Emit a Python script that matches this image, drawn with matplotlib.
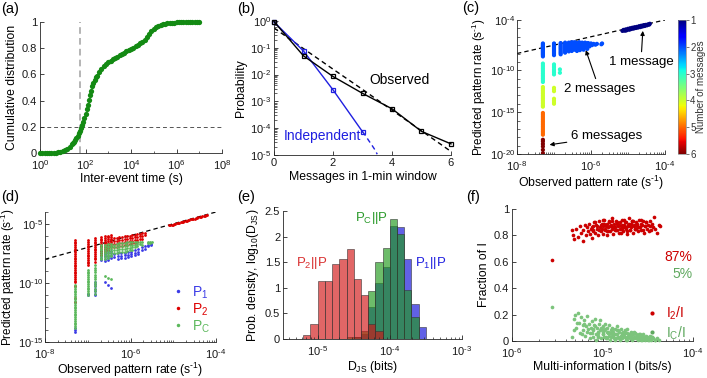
import numpy as np
import matplotlib
matplotlib.use('Agg')
import matplotlib.pyplot as plt
from matplotlib.ticker import LogLocator, NullFormatter, FixedLocator, FuncFormatter
from matplotlib.lines import Line2D

plt.rcParams['font.family'] = ['Liberation Sans', 'DejaVu Sans']
plt.rcParams['mathtext.fontset'] = 'custom'
plt.rcParams['mathtext.rm'] = 'Liberation Sans'
plt.rcParams['mathtext.it'] = 'Liberation Sans:italic'
plt.rcParams['mathtext.bf'] = 'Liberation Sans:bold'
plt.rcParams['mathtext.default'] = 'regular'

# ---------------- data ----------------
# (a) cumulative distribution of inter-event times (log10 seconds)
a_logt = [0.0, 0.1, 0.2, 0.3, 0.4, 0.5, 0.6, 0.7, 0.8, 0.9, 1.0, 1.1, 1.2, 1.3, 1.4, 1.45, 1.5, 1.55, 1.6,
          1.65, 1.7, 1.75, 1.8, 1.85, 1.9, 1.95, 2.0, 2.05, 2.1, 2.15, 2.2, 2.25, 2.3, 2.35, 2.4, 2.45, 2.5,
          2.6, 2.7, 2.8, 2.9, 3.0, 3.1, 3.2, 3.3, 3.4, 3.5, 3.6, 3.7, 3.8, 3.9,
          4.0, 4.1, 4.2, 4.3, 4.4, 4.5, 4.6, 4.7, 4.8, 4.9, 5.0, 5.1, 5.2, 5.3, 5.4, 5.5, 5.6, 5.7, 5.8, 5.9,
          6.0, 6.1, 6.2, 6.3, 6.4, 6.5, 6.6, 6.7, 6.8, 6.9, 7.0]
a_cdf = [0.0, 0.0, 0.0, 0.0, 0.0, 0.0, 0.001, 0.002, 0.004, 0.008, 0.013, 0.02, 0.03, 0.045, 0.065, 0.075,
         0.085, 0.10, 0.115, 0.132, 0.15, 0.17, 0.19, 0.215, 0.24, 0.27, 0.30, 0.335, 0.37, 0.405, 0.44,
         0.475, 0.51, 0.535, 0.56, 0.578, 0.59,
         0.62, 0.645, 0.665, 0.68, 0.695, 0.705, 0.715, 0.725, 0.735, 0.745, 0.755, 0.765, 0.775, 0.785,
         0.795, 0.805, 0.815, 0.825, 0.837, 0.85, 0.865, 0.885, 0.905, 0.93, 0.95, 0.962, 0.97, 0.977,
         0.982, 0.986, 0.989, 0.992, 0.994, 0.996,
         0.997, 0.998, 0.998, 0.999, 0.999, 1.0, 1.0, 1.0, 1.0, 1.0, 1.0]
a_window = 60
a_level = 0.2

# (b) messages per 1-min window
b_k = [0, 1, 2, 3, 4, 5, 6]
b_obs = [0.95, 0.05, 0.0085, 0.002, 5.3e-4, 7.6e-5, 2.6e-5]
b_fit = [0.55, 0.093, 0.016, 0.0028, 4.7e-4, 8.0e-5, 1.35e-5]
b_ind_k = [0, 1, 2, 3]
b_ind = [0.92, 0.076, 0.0027, 7.4e-5]
b_tail_k = [3.0, 3.1, 3.2, 3.3, 3.4, 3.5]
b_tail = [7.4e-5, 5.3e-5, 3.6e-5, 2.5e-5, 1.7e-5, 1.07e-5]

# (c) observed vs predicted pattern rate (log10), grouped by number of messages
c1_x = [-5.15, -5.12, -5.09, -5.06, -5.03, -5.00, -4.97, -4.94, -4.91, -4.88, -4.85, -4.82, -4.79, -4.76,
        -4.73, -4.70, -4.67, -4.64, -4.61, -4.58, -4.55, -4.52, -4.49, -4.46, -4.43, -4.41,
        -5.05, -4.95, -4.85, -4.75, -4.65, -4.55]
c1_y = [-5.30, -5.18, -5.28, -5.12, -5.20, -5.05, -5.15, -4.98, -5.08, -4.92, -5.02, -4.86, -4.96, -4.82,
        -4.90, -4.74, -4.85, -4.68, -4.78, -4.62, -4.72, -4.58, -4.64, -4.52, -4.56, -4.45,
        -5.25, -5.12, -4.98, -4.86, -4.76, -4.62]
c2_x = [-7.3] * 16 + [-7.0] * 15 + [-6.82] * 10 + [-6.7] * 9 + [-6.6] * 8 + [-6.52] * 8 + [-6.45] * 7 + \
       [-6.40, -6.40, -6.40, -6.36, -6.36, -6.36, -6.32, -6.32, -6.32, -6.28, -6.28, -6.28, -6.24, -6.24,
        -6.24, -6.20, -6.20, -6.20, -6.16, -6.16, -6.16, -6.12, -6.12, -6.12, -6.08, -6.08, -6.04, -6.04,
        -6.00, -5.97, -5.93, -5.88, -5.84, -5.72, -5.70, -6.38, -6.30, -6.20, -6.10]
c2_y = [-6.8, -6.9, -7.0, -7.1, -7.2, -7.3, -7.4, -7.5, -7.6, -7.7, -7.8, -7.9, -8.0, -8.1, -8.2, -8.35,
        -6.8, -6.9, -7.0, -7.1, -7.2, -7.3, -7.4, -7.5, -7.6, -7.7, -7.8, -7.9, -8.0, -8.1, -8.2,
        -6.75, -6.9, -7.05, -7.2, -7.35, -7.5, -7.65, -7.8, -7.95, -8.1,
        -6.7, -6.85, -7.0, -7.15, -7.3, -7.45, -7.6, -7.75, -7.9,
        -6.7, -6.85, -7.0, -7.15, -7.3, -7.45, -7.6, -7.75,
        -6.65, -6.8, -6.95, -7.1, -7.25, -7.4, -7.55, -7.7,
        -6.65, -6.8, -6.95, -7.1, -7.25, -7.4, -7.55,
        -6.7, -7.0, -7.3, -6.8, -7.15, -7.45, -6.65, -6.95, -7.25, -6.75, -7.05, -7.35, -6.7, -7.0,
        -7.25, -6.8, -7.1, -7.4, -6.7, -6.95, -7.2, -6.8, -7.05, -7.3, -6.75, -7.0, -6.85, -7.15,
        -6.8, -7.0, -6.85, -6.95, -6.85, -6.9, -6.8, -7.7, -7.6, -7.55, -7.45]
c3_x = [-7.3] * 12 + [-7.0] * 7 + [-6.84] * 2
c3_y = [-9.2, -9.4, -9.6, -9.8, -10.0, -10.2, -10.4, -10.6, -10.8, -11.0, -11.2, -11.4,
        -9.3, -9.5, -9.7, -9.9, -10.1, -10.3, -10.5, -9.9, -10.3]
c4_x = [-7.3] * 13 + [-7.0] * 7
c4_y = [-12.0, -12.2, -12.4, -12.6, -12.8, -13.0, -13.2, -13.4, -13.6, -13.8, -14.0, -14.2, -14.35,
        -12.1, -12.3, -12.5, -13.4, -13.6, -13.8, -14.0]
c5_x = [-7.3] * 14
c5_y = [-15.1, -15.3, -15.5, -15.7, -15.9, -16.1, -16.3, -16.5, -16.7, -16.9, -17.1, -17.3, -17.5, -17.7]
c6_x = [-7.3] * 6
c6_y = [-18.3, -18.5, -18.8, -19.1, -19.5, -19.9]
c_diag = [1e-8, 1e-4]

# (d) predicted rates by model (log10) -- stripes at discrete observed rates, plus cluster
d_stripe_x = [-7.30, -7.00, -6.82, -6.70, -6.60, -6.52, -6.45]
d_p2_stripes = [
    [-6.35, -6.5, -6.65, -6.8, -6.95, -7.1, -7.25, -7.4, -7.55, -7.7, -7.85, -8.0, -8.15, -8.3, -8.45, -8.6,
     -8.75, -8.9, -9.05, -9.2, -9.35, -9.5, -9.65, -9.8, -9.95, -10.3, -11.3, -11.6],
    [-6.4, -6.55, -6.7, -6.85, -7.0, -7.15, -7.3, -7.45, -7.6, -7.75, -7.9, -8.05, -8.2, -8.35, -8.5],
    [-6.2, -6.35, -6.5, -6.65, -6.8, -6.95, -7.1, -7.25, -7.4, -7.55, -7.7, -7.85, -8.0, -8.2],
    [-6.1, -6.25, -6.4, -6.55, -6.7, -6.85, -7.0, -7.15, -7.3, -7.45, -7.6],
    [-6.05, -6.2, -6.35, -6.5, -6.65, -6.8, -6.95, -7.1, -7.25, -7.4],
    [-6.0, -6.15, -6.3, -6.45, -6.6, -6.75, -6.9, -7.05, -7.2],
    [-5.95, -6.1, -6.25, -6.4, -6.55, -6.7, -6.85, -7.0]]
d_pc_stripes = [
    [-10.2, -10.35, -10.5, -10.65, -10.8, -10.95, -11.1, -11.25, -11.4, -11.55, -11.7, -11.85, -12.0,
     -12.15, -12.3, -12.45, -12.6, -12.75, -12.9, -13.05, -13.2, -13.35, -13.5, -13.65, -13.8],
    [-8.9, -9.05, -9.2, -9.35, -9.5, -9.65, -9.8, -9.95, -10.1, -10.25, -10.4, -10.55, -10.7, -10.85, -11.0],
    [-8.5, -8.7, -8.9, -9.1, -9.3, -9.5, -9.7, -9.9, -10.1, -10.3, -10.5, -10.7, -10.9],
    [-6.8, -6.95, -7.1, -7.25, -7.4, -7.55, -7.7, -7.85, -8.0],
    [-6.75, -6.9, -7.05, -7.2, -7.35, -7.5, -7.65, -7.8, -7.95, -9.4],
    [-6.7, -6.85, -7.0, -7.15, -7.3, -7.45, -7.6, -7.75, -7.9, -9.55],
    [-6.7, -6.85, -7.0, -7.15, -7.3, -7.45, -7.6, -7.75, -9.7]]
d_p1_stripes = [
    [-13.85, -14.0, -14.15],
    [-10.9, -11.05],
    [-9.9, -10.1, -10.3, -10.5, -10.7, -10.9, -11.05],
    [-7.3, -7.5, -7.7, -7.9, -8.1],
    [-7.35, -7.55, -7.75, -7.95, -8.15, -9.9],
    [-7.3, -7.5, -7.7, -7.9, -8.1, -10.15],
    [-7.3, -7.5, -7.7, -7.9, -10.4]]
d_p2_cx = [-6.38, -6.38, -6.38, -6.38, -6.32, -6.32, -6.32, -6.32, -6.26, -6.26, -6.26, -6.26,
           -6.20, -6.20, -6.20, -6.20, -6.14, -6.14, -6.14, -6.14, -6.08, -6.08, -6.08, -6.08,
           -6.02, -6.02, -6.02, -6.02, -5.96, -5.96, -5.96, -5.96, -5.90, -5.90, -5.90, -5.90,
           -5.84, -5.84, -5.84, -5.84, -5.78, -5.78, -5.78, -5.72, -5.72, -5.72, -5.66, -5.66]
d_p2_cy = [-6.20, -6.45, -6.70, -6.95, -6.17, -6.42, -6.67, -6.92, -6.14, -6.38, -6.62, -6.88,
           -6.10, -6.35, -6.60, -6.85, -6.07, -6.30, -6.55, -6.80, -6.03, -6.27, -6.50, -6.75,
           -6.00, -6.22, -6.45, -6.70, -5.96, -6.18, -6.42, -6.65, -5.93, -6.15, -6.38, -6.60,
           -5.89, -6.10, -6.33, -6.55, -5.86, -6.05, -6.30, -5.80, -6.00, -6.25, -5.75, -5.95]
d_pc_cx = [-6.38, -6.38, -6.38, -6.38, -6.32, -6.32, -6.32, -6.32, -6.26, -6.26, -6.26, -6.26,
           -6.20, -6.20, -6.20, -6.20, -6.14, -6.14, -6.14, -6.14, -6.08, -6.08, -6.08, -6.08,
           -6.02, -6.02, -6.02, -6.02, -5.96, -5.96, -5.96, -5.96, -5.90, -5.90, -5.90,
           -5.84, -5.84, -5.84, -5.78, -5.78, -5.72, -5.72, -5.60, -5.60, -5.55, -5.55, -5.50]
d_pc_cy = [-6.75, -7.00, -7.25, -7.50, -6.70, -6.95, -7.20, -7.45, -6.65, -6.90, -7.15, -7.40,
           -6.60, -6.85, -7.10, -7.35, -6.60, -6.85, -7.10, -7.35, -6.55, -6.80, -7.05, -7.30,
           -6.55, -6.80, -7.05, -7.25, -6.50, -6.75, -7.00, -7.20, -6.50, -6.75, -6.95,
           -6.50, -6.70, -6.90, -6.50, -6.70, -6.55, -6.75, -6.50, -6.65, -6.50, -6.60, -6.55]
d_p1_cx = [-6.38, -6.38, -6.30, -6.30, -6.30, -6.22, -6.22, -6.22, -6.14, -6.14, -6.14, -6.06, -6.06,
           -6.06, -5.98, -5.98, -5.98, -5.90, -5.90, -5.90, -5.82, -5.82, -5.82, -5.74, -5.74, -5.66,
           -5.66, -5.58, -5.58, -5.52, -5.52]
d_p1_cy = [-7.55, -7.80, -7.50, -7.75, -7.95, -7.45, -7.70, -7.90, -7.45, -7.65, -7.85, -7.40, -7.60,
           -7.80, -7.35, -7.55, -7.75, -7.20, -7.45, -7.65, -7.10, -7.35, -7.55, -7.00, -7.25, -6.90,
           -7.10, -6.75, -6.90, -6.70, -6.80]
d_one_x = [-5.10, -5.07, -5.04, -5.01, -4.98, -4.95, -4.92, -4.89, -4.86, -4.83, -4.80, -4.77, -4.74, -4.71,
           -4.68, -4.65, -4.62, -4.59, -4.56, -4.53, -4.50, -4.47, -4.44, -4.41, -4.38, -4.35, -4.32, -4.29,
           -4.26, -4.23, -4.20]
d_one_y = [-5.14, -5.13, -5.08, -5.07, -5.02, -5.01, -4.96, -4.95, -4.90, -4.88, -4.85, -4.82, -4.79, -4.75,
           -4.73, -4.69, -4.67, -4.63, -4.61, -4.57, -4.55, -4.51, -4.49, -4.45, -4.43, -4.39, -4.37, -4.33,
           -4.31, -4.27, -4.25]
d_diag = [1e-8, 1e-4]

# (e) histograms of log10 D_JS (bin left edges, width 0.1 decade)
e_edges = [-5.2, -5.1, -5.0, -4.9, -4.8, -4.7, -4.6, -4.5, -4.4, -4.3, -4.2, -4.1, -4.0, -3.9, -3.8, -3.7,
           -3.6, -3.5]
e_p1 = [0, 0, 0, 0, 0, 0, 0, 0.03, 0.10, 0.62, 1.09, 1.40, 2.20, 2.19, 1.56, 0.68, 0.23]
e_pc = [0, 0, 0, 0, 0, 0, 0.03, 0.03, 0.16, 0.93, 1.50, 1.77, 2.34, 2.06, 0.96, 0.43, 0]
e_p2 = [0.08, 0.29, 1.13, 1.13, 1.46, 1.56, 1.76, 1.17, 0.86, 0.29, 0.16, 0, 0, 0, 0, 0, 0]

# (f) fraction of multi-information vs multi-information (log10 bits/s)
f_i2_x = [-5.56,
          -5.34, -5.33, -5.31, -5.29, -5.27, -5.25, -5.24, -5.22, -5.21, -5.19,
          -5.18, -5.17, -5.16, -5.15, -5.14, -5.13, -5.12, -5.11, -5.10, -5.09,
          -5.08, -5.07, -5.06, -5.05, -5.04, -5.03, -5.02, -5.01, -5.00, -4.99,
          -4.98, -4.97, -4.96, -4.95, -4.94, -4.93, -4.92, -4.91, -4.90, -4.89,
          -4.88, -4.87, -4.86, -4.85, -4.84, -4.83, -4.82, -4.81, -4.80, -4.79,
          -4.78, -4.77, -4.76, -4.75, -4.74, -4.73, -4.72, -4.71, -4.70, -4.69,
          -4.68, -4.67, -4.66, -4.65, -4.64, -4.63, -4.62, -4.61, -4.60, -4.59,
          -4.58, -4.57, -4.56, -4.55, -4.54, -4.53, -4.52, -4.51, -4.50, -4.49,
          -4.48, -4.47, -4.46, -4.45, -4.44, -4.43, -4.42, -4.40, -4.38, -4.37,
          -5.12, -5.10, -5.08, -5.06, -5.04, -5.02, -4.995, -4.975, -4.955, -4.935, -4.915,
          -4.895, -4.875, -4.855, -4.835, -4.815, -4.795, -4.775, -4.755, -4.735, -4.715,
          -4.695, -4.675, -4.655, -4.635, -4.615, -4.595, -4.575, -4.555, -4.535, -4.52,
          -5.005, -4.985, -4.965, -4.945, -4.925, -4.905, -4.885, -4.865, -4.845, -4.825, -4.805,
          -4.785, -4.765, -4.745, -4.725, -4.705, -4.685, -4.665, -4.645, -4.625, -4.605]
f_i2_y = [0.61,
          0.84, 0.80, 0.77, 0.85, 0.79, 0.87, 0.82, 0.76, 0.84, 0.88,
          0.80, 0.86, 0.83, 0.89, 0.81, 0.85, 0.78, 0.87, 0.84, 0.90,
          0.82, 0.88, 0.85, 0.80, 0.91, 0.86, 0.83, 0.89, 0.81, 0.87,
          0.92, 0.84, 0.88, 0.80, 0.86, 0.90, 0.83, 0.87, 0.93, 0.85,
          0.81, 0.89, 0.86, 0.91, 0.84, 0.88, 0.82, 0.90, 0.87, 0.85,
          0.92, 0.83, 0.88, 0.86, 0.90, 0.81, 0.87, 0.93, 0.84, 0.89,
          0.86, 0.91, 0.82, 0.88, 0.85, 0.90, 0.87, 0.83, 0.92, 0.86,
          0.89, 0.84, 0.88, 0.91, 0.82, 0.87, 0.90, 0.85, 0.88, 0.83,
          0.87, 0.91, 0.84, 0.89, 0.86, 0.94, 0.85, 0.82, 0.88, 0.87,
          0.86, 0.83, 0.90, 0.87, 0.84, 0.88, 0.92, 0.85, 0.89, 0.83, 0.87,
          0.91, 0.86, 0.84, 0.89, 0.88, 0.82, 0.86, 0.90, 0.85, 0.88,
          0.84, 0.91, 0.87, 0.85, 0.89, 0.86, 0.92, 0.84, 0.87, 0.90,
          0.85, 0.89, 0.87, 0.83, 0.91, 0.88, 0.86, 0.84, 0.90, 0.87, 0.85,
          0.88, 0.92, 0.86, 0.83, 0.89, 0.87, 0.91, 0.85, 0.88, 0.86]
f_ic_x = [-5.56,
          -5.34, -5.32, -5.30, -5.29, -5.27, -5.26, -5.25, -5.24, -5.22, -5.21, -5.20, -5.19, -5.18, -5.17,
          -5.16, -5.15, -5.14, -5.13, -5.12, -5.11, -5.10, -5.09, -5.08, -5.07, -5.06, -5.05, -5.04, -5.03,
          -5.02, -5.01, -5.00, -4.99, -4.98, -4.97, -4.96, -4.95, -4.94, -4.93, -4.92, -4.91, -4.90, -4.89,
          -4.88, -4.87, -4.86, -4.85, -4.84, -4.83, -4.82, -4.81, -4.80, -4.79, -4.78, -4.77, -4.76, -4.75,
          -4.74, -4.73, -4.72, -4.71, -4.70, -4.69, -4.68, -4.67, -4.66, -4.65, -4.64, -4.63, -4.62, -4.61,
          -4.60, -4.59, -4.58, -4.57, -4.56, -4.55, -4.53, -4.52, -4.50, -4.49, -4.47, -4.46, -4.44, -4.42,
          -4.40, -4.38,
          -5.05, -5.00, -4.97, -4.95, -4.92, -4.90, -4.88, -4.85, -4.83, -4.80, -4.78, -4.75, -4.73, -4.70,
          -4.68, -4.65, -4.62, -4.60, -4.57, -4.55, -4.52, -4.48, -4.45,
          -5.115, -5.085, -5.055, -5.025, -4.995, -4.965, -4.935, -4.905, -4.875, -4.845, -4.815, -4.785,
          -4.755, -4.725, -4.695, -4.665, -4.635, -4.605, -4.575, -4.545, -4.515, -4.485, -4.455, -4.425,
          -5.105, -5.075, -5.045, -5.015, -4.985, -4.955, -4.925, -4.895, -4.865, -4.835, -4.805, -4.775,
          -4.745, -4.715, -4.685, -4.655, -4.625, -4.595, -4.565, -4.535, -4.505, -4.475,
          -5.23, -5.20, -5.17, -5.14, -5.28, -5.31]
f_ic_y = [0.26,
          0.03, 0.17, 0.20, 0.10, 0.21, 0.14, 0.06, 0.18, 0.12, 0.08, 0.16, 0.04, 0.11, 0.19,
          0.09, 0.13, 0.06, 0.10, 0.15, 0.03, 0.08, 0.12, 0.17, 0.05, 0.10, 0.07, 0.13, 0.16,
          0.02, 0.09, 0.11, 0.05, 0.08, 0.13, 0.03, 0.10, 0.06, 0.12, 0.01, 0.08, 0.04, 0.10,
          0.07, 0.02, 0.09, 0.05, 0.11, 0.03, 0.07, 0.01, 0.09, 0.05, 0.02, 0.07, 0.04, 0.08,
          0.01, 0.06, 0.03, 0.05, 0.02, 0.07, 0.04, 0.01, 0.05, 0.03, 0.06, 0.02, 0.04, 0.01,
          0.03, 0.05, 0.02, 0.04, 0.01, 0.03, 0.02, 0.04, 0.01, 0.03, 0.02, 0.01, 0.02, 0.01,
          0.02, 0.01,
          0.04, 0.07, 0.09, 0.02, 0.06, 0.09, 0.04, 0.02, 0.08, 0.04, 0.06, 0.03, 0.09, 0.05,
          0.02, 0.07, 0.03, 0.05, 0.02, 0.05, 0.02, 0.04, 0.03,
          0.06, 0.11, 0.03, 0.08, 0.05, 0.02, 0.07, 0.03, 0.05, 0.08, 0.02, 0.04,
          0.06, 0.01, 0.04, 0.06, 0.02, 0.04, 0.01, 0.03, 0.02, 0.01, 0.03, 0.01,
          0.09, 0.01, 0.06, 0.10, 0.03, 0.07, 0.04, 0.06, 0.01, 0.05, 0.03, 0.05,
          0.02, 0.04, 0.06, 0.02, 0.05, 0.02, 0.03, 0.01, 0.03, 0.02,
          0.05, 0.13, 0.07, 0.02, 0.14, 0.08]
f_i2_share = '87%'
f_ic_share = '5%'

# ---------------- figure ----------------
W, H = 707, 378
fig = plt.figure(figsize=(W / 100, H / 100), dpi=100)

def rect(l, t, r, b):
    return [l / W, 1 - b / H, (r - l) / W, (b - t) / H]

AXC = '#262626'
TFS = 8
LFS = 8.8
HY = '\u2010'   # short hyphen used in superscript exponents
INV_S = '(s$^{' + HY + '1}$)'

def style(ax):
    for s in ['top', 'right']:
        ax.spines[s].set_visible(False)
    for s in ['left', 'bottom']:
        ax.spines[s].set_color(AXC)
        ax.spines[s].set_linewidth(0.6)
    ax.tick_params(which='both', direction='in', colors=AXC, labelsize=TFS, labelcolor='#1a1a1a')
    ax.tick_params(which='major', length=3, width=0.6, pad=2)
    ax.tick_params(which='minor', length=1.8, width=0.5)

gfmt = FuncFormatter(lambda v, p: f'{v:g}')

def _logfmt(v, pos):
    k = int(round(np.log10(v)))
    e = (HY + str(-k)) if k < 0 else str(k)
    return '$10^{' + e + '}$'

lfmt = FuncFormatter(_logfmt)

def p(vals):
    return [10.0 ** v for v in vals]

# ---- (a)
ax = fig.add_axes(rect(40, 22, 222, 153))
style(ax)
ax.set_xscale('log')
ax.axvline(a_window, color='#a8a8a8', ls=(0, (4, 2.5)), lw=1.2, zorder=1)
ax.axhline(a_level, color='#555555', ls=(0, (4, 3)), lw=0.7, zorder=1)
ax.plot(p(a_logt), a_cdf, 'o', color='#138a13', ms=3.8, mec='none', clip_on=False, zorder=3)
ax.set_xlim(1, 1e8)
ax.set_ylim(0, 1)
ax.xaxis.set_major_locator(FixedLocator([1e0, 1e2, 1e4, 1e6, 1e8]))
ax.xaxis.set_major_formatter(lfmt)
ax.xaxis.set_minor_locator(FixedLocator([1e1, 1e3, 1e5, 1e7]))
ax.xaxis.set_minor_formatter(NullFormatter())
ax.set_yticks([0, 0.2, 0.4, 0.6, 0.8, 1.0])
ax.yaxis.set_major_formatter(gfmt)
ax.tick_params(axis='x', pad=4)
ax.set_xlabel('Inter-event time (s)', fontsize=LFS, labelpad=0.5)
ax.set_ylabel('Cumulative distribution', fontsize=LFS, labelpad=3)

# ---- (b)
ax = fig.add_axes(rect(274, 21, 451, 155))
style(ax)
ax.set_yscale('log')
ax.plot(b_k, b_fit, color='k', ls=(0, (3.5, 2.5)), lw=1.0, zorder=2)
ax.plot(b_tail_k, b_tail, color='#1f1fe0', ls=(0, (3.5, 2.5)), lw=1.0, zorder=2)
ax.plot(b_ind_k, b_ind, '-s', color='#1f1fe0', lw=1.0, ms=3.2, mfc='none', mew=0.9, zorder=3, clip_on=False)
ax.plot(b_k, b_obs, '-s', color='k', lw=1.0, ms=3.2, mfc='none', mew=0.9, zorder=4, clip_on=False)
ax.set_xlim(0, 6)
ax.set_ylim(1e-5, 1)
ax.set_xticks([0, 2, 4, 6])
ax.yaxis.set_major_locator(FixedLocator([1e-5, 1e-4, 1e-3, 1e-2, 1e-1, 1e0]))
ax.yaxis.set_major_formatter(lfmt)
ax.yaxis.set_minor_locator(LogLocator(base=10, subs=np.arange(2, 10), numticks=30))
ax.yaxis.set_minor_formatter(NullFormatter())
ax.text(3.25, 10 ** -2.2, 'Observed', fontsize=10, color='k', va='center', ha='left')
ax.text(0.32, 10 ** -4.3, 'Independent', fontsize=10, color='#1f1fe0', va='center', ha='left')
ax.set_xlabel('Messages in 1-min window', fontsize=LFS, labelpad=2)
ax.set_ylabel('Probability', fontsize=LFS, labelpad=2)

# ---- (c)
ax = fig.add_axes(rect(517, 20, 665, 154))
style(ax)
ax.set_xscale('log')
ax.set_yscale('log')
ax.plot(c_diag, c_diag, color='k', ls=(0, (3.5, 2.5)), lw=0.9, zorder=1)
groups = [(c6_x, c6_y, 6), (c5_x, c5_y, 5), (c4_x, c4_y, 4), (c3_x, c3_y, 3), (c2_x, c2_y, 2), (c1_x, c1_y, 1)]
cx, cy, cn = [], [], []
for gx, gy, n in groups:
    cx += gx
    cy += gy
    cn += [n] * len(gx)
sc = ax.scatter(p(cx), p(cy), c=cn, cmap='jet', vmin=1, vmax=6, s=9, linewidths=0, zorder=3)
ax.set_xlim(1e-8, 1e-4)
ax.set_ylim(1e-20, 1e-4)
ax.xaxis.set_major_locator(FixedLocator([1e-8, 1e-6, 1e-4]))
ax.xaxis.set_major_formatter(lfmt)
ax.xaxis.set_minor_locator(LogLocator(base=10, subs=np.arange(1, 10), numticks=40))
ax.xaxis.set_minor_formatter(NullFormatter())
ax.yaxis.set_major_locator(FixedLocator([1e-20, 1e-15, 1e-10, 1e-4]))
ax.yaxis.set_major_formatter(lfmt)
ax.yaxis.set_minor_locator(FixedLocator([10.0 ** k for k in range(-20, -3)]))
ax.yaxis.set_minor_formatter(NullFormatter())
ax.tick_params(axis='y', pad=1.5)
ax.tick_params(axis='x', pad=3.5)
arw = dict(arrowstyle='-|>', color='k', lw=0.8, mutation_scale=6, shrinkA=1, shrinkB=0)
ax.annotate('1 message', xy=(10 ** -4.6, 10 ** -5.3), xytext=(10 ** -4.65, 10 ** -9.0), fontsize=9.5,
            ha='center', va='center', arrowprops=arw)
ax.annotate('2 messages', xy=(10 ** -6.14, 10 ** -7.6), xytext=(10 ** -5.78, 10 ** -12.2), fontsize=9.5,
            ha='center', va='center', arrowprops=arw)
ax.annotate('6 messages', xy=(10 ** -7.12, 10 ** -18.9), xytext=(10 ** -5.58, 10 ** -17.9), fontsize=9.5,
            ha='center', va='center', arrowprops=arw)
ax.set_xlabel('Observed pattern rate ' + INV_S, fontsize=LFS, labelpad=1)
ax.set_ylabel('Predicted pattern rate ' + INV_S, fontsize=8.4, labelpad=1)

cax = fig.add_axes(rect(678, 20, 686, 154))
cb = fig.colorbar(sc, cax=cax, ticks=[1, 2, 3, 4, 5, 6])
cax.invert_yaxis()
cb.outline.set_linewidth(0.5)
cb.outline.set_edgecolor('#888888')
cax.tick_params(labelsize=7, length=2, width=0.5, colors='#444444', labelcolor='#333333', pad=1)
cb.set_label('Number of messages', fontsize=7, color='#333333', labelpad=0)

# ---- (d)
ax = fig.add_axes(rect(45, 212, 216, 342))
style(ax)
ax.set_xscale('log')
ax.set_yscale('log')
ax.plot(d_diag, d_diag, color='k', ls=(0, (3.5, 2.5)), lw=0.9, zorder=1)

def expand(stripes):
    xs, ys = [], []
    for sx, yl in zip(d_stripe_x, stripes):
        xs += [sx] * len(yl)
        ys += yl
    return xs, ys

x1, y1 = expand(d_p1_stripes)
x2, y2 = expand(d_p2_stripes)
xc, yc = expand(d_pc_stripes)
C_P1, C_P2, C_PC = '#3b3be6', '#dd0000', '#5cb85c'
ax.scatter(p(x1 + d_p1_cx), p(y1 + d_p1_cy), s=4, color=C_P1, linewidths=0, zorder=2)
ax.scatter(p(x2 + d_p2_cx + d_one_x), p(y2 + d_p2_cy + d_one_y), s=4, color=C_P2, linewidths=0, zorder=3)
ax.scatter(p(xc + d_pc_cx), p(yc + d_pc_cy), s=4, color=C_PC, linewidths=0, zorder=4)
ax.set_xlim(1e-8, 1e-4)
ax.set_ylim(1e-15, 1e-4)
ax.xaxis.set_major_locator(FixedLocator([1e-8, 1e-6, 1e-4]))
ax.xaxis.set_major_formatter(lfmt)
ax.xaxis.set_minor_locator(LogLocator(base=10, subs=np.arange(1, 10), numticks=40))
ax.xaxis.set_minor_formatter(NullFormatter())
ax.yaxis.set_major_locator(FixedLocator([1e-15, 1e-10, 1e-5]))
ax.yaxis.set_major_formatter(lfmt)
ax.yaxis.set_minor_locator(FixedLocator([10.0 ** k for k in range(-15, -3)]))
ax.yaxis.set_minor_formatter(NullFormatter())
ax.tick_params(axis='y', pad=1.5)
ax.tick_params(axis='x', pad=3.5)
hd = [Line2D([], [], ls='none', marker='o', ms=2.5, color=c, mec='none') for c in (C_P1, C_P2, C_PC)]
leg = ax.legend(hd, ['P$_1$', 'P$_2$', 'P$_C$'], loc='lower right', bbox_to_anchor=(1.04, -0.04), frameon=False,
                fontsize=10, handlelength=0.8, handletextpad=0.6, labelspacing=0.05,
                labelcolor=[C_P1, C_P2, C_PC])
ax.set_xlabel('Observed pattern rate ' + INV_S, fontsize=LFS, labelpad=0)
ax.set_ylabel('Predicted pattern rate ' + INV_S, fontsize=8.4)
ax.yaxis.set_label_coords(-0.162, 0.5)

# ---- (e)
ax = fig.add_axes(rect(283, 211, 462, 339))
style(ax)
ax.set_xscale('log')
lefts = [10.0 ** v for v in e_edges[:-1]]
widths = [10.0 ** e_edges[i + 1] - 10.0 ** e_edges[i] for i in range(len(e_edges) - 1)]
for vals, col in ((e_p1, (0.05, 0.05, 0.85)), (e_pc, (0.12, 0.6, 0.1)), (e_p2, (0.82, 0.08, 0.08))):
    idx = [i for i, v in enumerate(vals) if v > 0]
    ax.bar([lefts[i] for i in idx], [vals[i] for i in idx], width=[widths[i] for i in idx], align='edge',
           color=col, alpha=0.65, edgecolor=(0.2, 0.2, 0.2, 0.8), linewidth=0.6)
ax.set_xlim(10 ** -5.48, 1e-3)
ax.set_ylim(0, 2.5)
ax.xaxis.set_major_locator(FixedLocator([1e-5, 1e-4, 1e-3]))
ax.xaxis.set_major_formatter(lfmt)
ax.xaxis.set_minor_locator(LogLocator(base=10, subs=np.arange(2, 10), numticks=30))
ax.xaxis.set_minor_formatter(NullFormatter())
ax.set_yticks([0, 0.5, 1, 1.5, 2, 2.5])
ax.yaxis.set_major_formatter(gfmt)
ax.tick_params(axis='x', pad=3.5)
ax.text(10 ** -5.08, 1.48, 'P$_2$||P', color='#d93030', fontsize=9.5, ha='center', va='center')
ax.text(10 ** -4.25, 2.36, 'P$_C$||P', color='#2a9a2a', fontsize=9.5, ha='center', va='center')
ax.text(10 ** -3.44, 1.48, 'P$_1$||P', color='#1f1fe0', fontsize=9.5, ha='center', va='center')
ax.set_xlabel('D$_{JS}$ (bits)', fontsize=LFS, labelpad=1)
ax.set_ylabel('Prob. density, log$_{10}$(D$_{JS}$)', fontsize=LFS, labelpad=3)

# ---- (f)
ax = fig.add_axes(rect(512, 209, 693, 341))
style(ax)
ax.set_xscale('log')
C_I2, C_IC = '#cc0000', '#7cc47c'
ax.scatter(p(f_i2_x), f_i2_y, s=7, color=C_I2, linewidths=0, zorder=3)
ax.scatter(p(f_ic_x), f_ic_y, s=7, color=C_IC, linewidths=0, zorder=3, clip_on=False)
ax.set_xlim(1e-6, 1e-4)
ax.set_ylim(0, 1)
ax.xaxis.set_major_locator(FixedLocator([1e-6, 1e-5, 1e-4]))
ax.xaxis.set_major_formatter(lfmt)
ax.xaxis.set_minor_locator(LogLocator(base=10, subs=np.arange(2, 10), numticks=30))
ax.xaxis.set_minor_formatter(NullFormatter())
ax.set_yticks([0, 0.2, 0.4, 0.6, 0.8, 1.0])
ax.yaxis.set_major_formatter(gfmt)
ax.tick_params(axis='x', pad=3.5)
ax.text(0.995, 0.636, f_i2_share, transform=ax.transAxes, color=C_I2, fontsize=10, ha='right', va='center')
ax.text(0.995, 0.508, f_ic_share, transform=ax.transAxes, color='#5fa85f', fontsize=10, ha='right', va='center')
hf = [Line2D([], [], ls='none', marker='o', ms=3, color=c, mec='none') for c in (C_I2, '#5fa85f')]
ax.legend(hf, ['I$_2$/I', 'I$_C$/I'], loc='lower right', bbox_to_anchor=(1.03, -0.1), frameon=False,
          fontsize=10, handlelength=0.8, handletextpad=0.6, labelspacing=0.15, labelcolor=[C_I2, '#5fa85f'])
ax.set_xlabel('Multi-information I (bits/s)', fontsize=LFS, labelpad=1)
ax.set_ylabel('Fraction of I', fontsize=LFS, labelpad=3)

# panel labels
for lab, x, y in (('(a)', 1, 2), ('(b)', 237, 2), ('(c)', 462, 1), ('(d)', 1, 190), ('(e)', 237, 190),
                  ('(f)', 466, 190)):
    fig.text(x / W, 1 - y / H, lab, fontsize=10.5, ha='left', va='top', color='k')

fig.savefig('out.png', dpi=100)
